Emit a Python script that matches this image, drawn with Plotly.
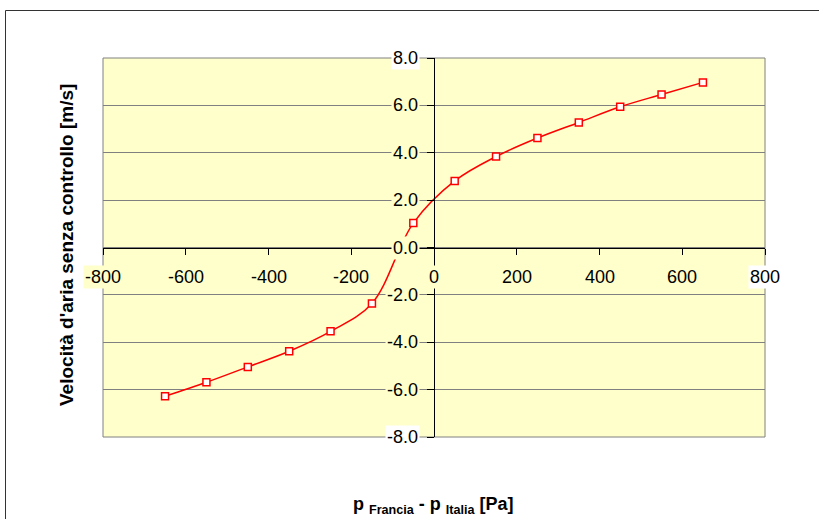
import plotly.graph_objects as go

# Data
dp_pa = [-650, -550, -450, -350, -250, -150, -50, 50, 150, 250, 350, 450, 550, 650]
velocita = [-6.28, -5.69, -5.04, -4.38, -3.54, -2.36, 1.03, 2.81, 3.84, 4.62, 5.28, 5.94, 6.46, 6.97]

x_ticks = [-800, -600, -400, -200, 0, 200, 400, 600, 800]
x_tick_text = ["-800", "-600", "-400", "-200", "0", "200", "400", "600", "800"]
y_ticks = [-8, -6, -4, -2, 0, 2, 4, 6, 8]
y_tick_text = ["-8.0", "-6.0", "-4.0", "-2.0", "0.0", "2.0", "4.0", "6.0", "8.0"]

PLOT_BG = "#FFFFCC"
FONT = "Liberation Sans, Arial, sans-serif"

W, H = 819, 519
L, R, T, B = 103, 54, 58, 82
pw, ph = W - L - R, H - T - B

def px_to_paper_x(px):
    return (px - L) / pw

def px_to_paper_y(py):
    return (H - B - py) / ph

fig = go.Figure()
fig.add_trace(go.Scatter(
    x=dp_pa, y=velocita,
    mode="lines+markers",
    line=dict(color="#FF0000", width=1.5, shape="spline", smoothing=1.0),
    marker=dict(symbol="square", size=7, color="white",
                line=dict(color="#FF0000", width=1.5)),
    showlegend=False,
    hoverinfo="skip",
))

annotations = []
# x tick labels
for v, t in zip(x_ticks, x_tick_text):
    bg = "white" if v == 800 else PLOT_BG
    annotations.append(dict(
        x=v, y=0, xref="x", yref="y", text=t, showarrow=False,
        xanchor="center", yanchor="middle", yshift=-29,
        font=dict(family=FONT, size=18, color="black"),
        bgcolor=bg, borderpad=1,
    ))
# y tick labels
for v, t in zip(y_ticks, y_tick_text):
    bg = "white" if abs(v) == 8 else PLOT_BG
    annotations.append(dict(
        x=0, y=v, xref="x", yref="y", text=t, showarrow=False,
        xanchor="right", yanchor="middle", xshift=-14,
        font=dict(family=FONT, size=18, color="black"),
        bgcolor=bg, borderpad=1,
    ))
# axis titles
annotations.append(dict(
    x=px_to_paper_x(66), y=px_to_paper_y(245), xref="paper", yref="paper",
    text="<b>Velocità d'aria senza controllo [m/s]</b>", textangle=-90,
    showarrow=False, xanchor="center", yanchor="middle",
    font=dict(family=FONT, size=19, color="black"),
))
annotations.append(dict(
    x=px_to_paper_x(433), y=px_to_paper_y(505), xref="paper", yref="paper",
    text="<b>p <sub>Francia</sub> - p <sub>Italia</sub> [Pa]</b>",
    showarrow=False, xanchor="center", yanchor="middle",
    font=dict(family=FONT, size=18, color="black"),
))

shapes = [
    # plot area border
    dict(type="rect", xref="paper", yref="paper", x0=0, x1=1, y0=0, y1=1,
         line=dict(color="#808080", width=1), fillcolor="rgba(0,0,0,0)", layer="below"),
    # chart area border (extends beyond the view)
    dict(type="rect", xref="paper", yref="paper",
         x0=px_to_paper_x(5.5), x1=px_to_paper_x(840),
         y0=px_to_paper_y(540), y1=px_to_paper_y(10.5),
         line=dict(color="#333333", width=1), fillcolor="rgba(0,0,0,0)", layer="below"),
]

fig.update_layout(
    width=W, height=H,
    margin=dict(l=L, r=R, t=T, b=B, pad=0),
    paper_bgcolor="white",
    plot_bgcolor=PLOT_BG,
    font=dict(family=FONT, size=18, color="black"),
    annotations=annotations,
    shapes=shapes,
    xaxis=dict(
        range=[-800, 800], tickvals=x_ticks, showticklabels=False,
        showgrid=False, zeroline=False,
        showline=True, linecolor="black", linewidth=1,
        ticks="outside", ticklen=6, tickcolor="black", tickwidth=1,
        anchor="free", position=0.5, fixedrange=True,
    ),
    yaxis=dict(
        range=[-8, 8], tickvals=y_ticks, showticklabels=False,
        showgrid=True, gridcolor="#808080", gridwidth=1, zeroline=False,
        showline=True, linecolor="black", linewidth=1,
        ticks="outside", ticklen=7, tickcolor="black", tickwidth=1,
        anchor="free", position=0.5, fixedrange=True,
    ),
)

fig.write_html("out.html")
